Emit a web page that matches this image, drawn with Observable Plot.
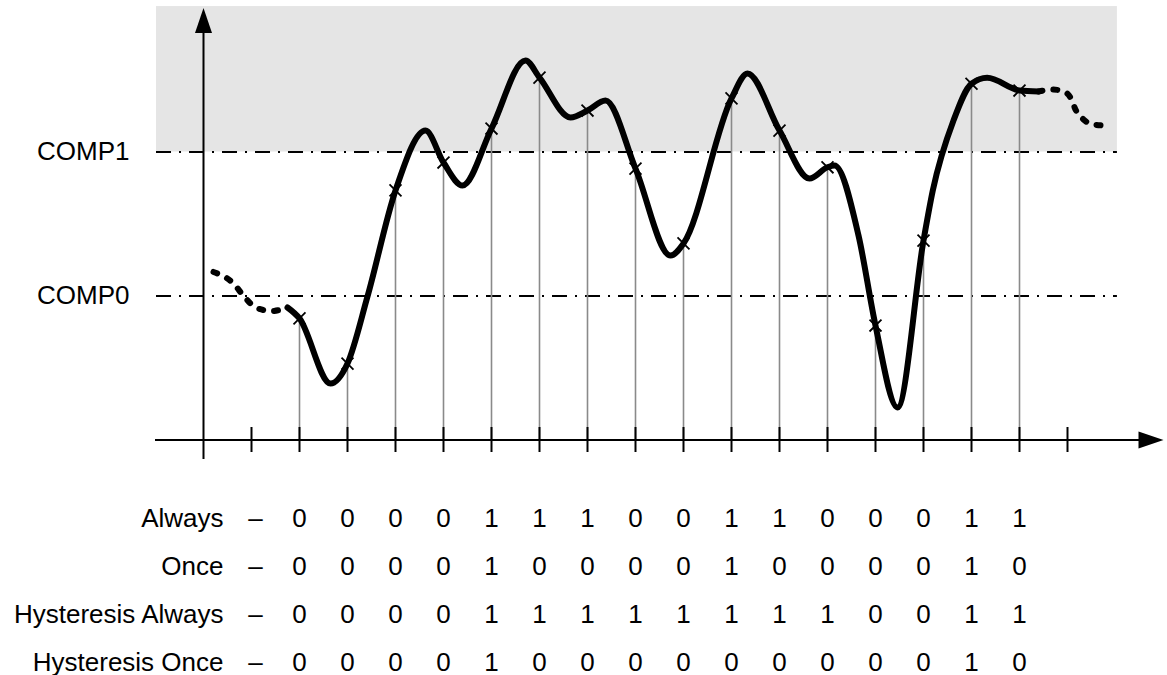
<!DOCTYPE html>
<html><head><meta charset="utf-8">
<script src="https://cdn.jsdelivr.net/npm/d3@7"></script>
<script src="https://cdn.jsdelivr.net/npm/@observablehq/plot@0.6"></script>
<style>
html,body{margin:0;padding:0;background:#fff;}
svg{display:block;}
</style></head><body><div id="chart"></div>
<script>
// ---- data ----
// sample instants (tick index) and the signal value at each sample (COMP0 = 1, COMP1 = 2)
const sampleT = [2, 3, 4, 5, 6, 7, 8, 9, 10, 11, 12, 13, 14, 15, 16, 17];
const sampleV = [0.844, 0.531, 1.733, 1.927, 2.163, 2.517, 2.288, 1.885, 1.365, 2.372, 2.149, 1.894, 0.795, 1.385, 2.474, 2.427];
// extra points of the solid signal between samples (peaks, valleys)
const betweenT = [1.75, 2.646, 3.417, 4.625, 5.396, 6.708, 7.646, 8.375, 9.729, 11.333, 12.625, 13.146, 13.646, 14.458, 15.194, 15.625, 16.326, 17.396];
const betweenV = [0.920, 0.392, 0.997, 2.149, 1.767, 2.635, 2.240, 2.358, 1.281, 2.545, 1.816, 1.906, 1.420, 0.226, 1.733, 2.219, 2.515, 2.420];
// dashed lead-in and tail of the signal
const leadT = [0.208, 0.635, 0.844, 1.104, 1.427, 1.75];
const leadV = [1.167, 1.083, 0.997, 0.917, 0.896, 0.920];
const tailT = [17.396, 17.688, 17.917, 18.063, 18.167, 18.333, 18.542, 18.792];
const tailV = [2.420, 2.434, 2.420, 2.378, 2.295, 2.226, 2.191, 2.184];
// comparator levels
const levelNames = ["COMP0", "COMP1"];
const levelValues = [1, 2];
// axis ticks
const tickT = [1, 2, 3, 4, 5, 6, 7, 8, 9, 10, 11, 12, 13, 14, 15, 16, 17, 18];
// table below the chart
const rowNames = ["Always", "Once", "Hysteresis Always", "Hysteresis Once"];
const alwaysRow     = [0,0,0,0,1,1,1,0,0,1,1,0,0,0,1,1];
const onceRow       = [0,0,0,0,1,0,0,0,0,1,0,0,0,0,1,0];
const hystAlwaysRow = [0,0,0,0,1,1,1,1,1,1,1,1,0,0,1,1];
const hystOnceRow   = [0,0,0,0,1,0,0,0,0,0,0,0,0,0,1,0];
const rowValues = [alwaysRow, onceRow, hystAlwaysRow, hystOnceRow];

// ---- drawing ----
const FONT = "'Liberation Sans', Arial, Helvetica, sans-serif";
const X = {domain: [0, 18], range: [203, 1067], axis: null};
const xMin = -0.979, xMax = 19.04, xAxisStart = -1, xArrowBase = 19.5, xArrowTip = 20;
const yTop = 3.01, yAxisBottom = -0.135, yArrowBase = 2.85, yArrowTip = 3;
const TICK = 0.087;

const arrowRight = {draw(ctx) { ctx.moveTo(0, 0); ctx.lineTo(-25, -8.5); ctx.lineTo(-25, 8.5); ctx.closePath(); }};
const arrowUp = {draw(ctx) { ctx.moveTo(0, 0); ctx.lineTo(-8.5, 25); ctx.lineTo(8.5, 25); ctx.closePath(); }};

const samples = sampleT.map((t, i) => ({t, v: sampleV[i]}));
const solid = [...samples, ...betweenT.map((t, i) => ({t, v: betweenV[i]}))].sort((a, b) => a.t - b.t);
const lead = leadT.map((t, i) => ({t, v: leadV[i]}));
const tail = tailT.map((t, i) => ({t, v: tailV[i]}));
const levels = levelValues.map((v, i) => ({v, name: levelNames[i]}));

const style = {fontFamily: FONT, fontSize: "26px", background: "white", overflow: "visible", color: "black"};

const chart = Plot.plot({
  width: 1167, height: 475, margin: 0,
  x: X,
  y: {domain: [0, 3], range: [439.5, 7.5], axis: null},
  style,
  marks: [
    Plot.rect([0], {x1: xMin, x2: xMax, y1: 2, y2: yTop, fill: "#e5e5e5"}),
    Plot.ruleY(levels, {y: "v", x1: xMin, x2: xMax, stroke: "black", strokeWidth: 1.8, strokeDasharray: "15,8,2,8"}),
    Plot.text(levels, {x: xAxisStart, y: "v", text: "name", textAnchor: "end", dx: -26, fontSize: 26, fill: "black"}),
    Plot.ruleX(samples, {x: "t", y1: 0, y2: "v", stroke: "#8a8a8a", strokeWidth: 1.6}),
    Plot.ruleX(tickT, {x: d => d, y1: -TICK, y2: TICK, stroke: "black", strokeWidth: 2}),
    Plot.ruleY([0], {x1: xAxisStart, x2: xArrowBase, stroke: "black", strokeWidth: 2}),
    Plot.ruleX([0], {y1: yAxisBottom, y2: yArrowBase, stroke: "black", strokeWidth: 2}),
    Plot.dot([0], {x: xArrowTip, y: 0, symbol: arrowRight, fill: "black", stroke: "none"}),
    Plot.dot([0], {x: 0, y: yArrowTip, symbol: arrowUp, fill: "black", stroke: "none"}),
    Plot.line(lead, {x: "t", y: "v", curve: "monotone-x", stroke: "black", strokeWidth: 6, strokeLinecap: "round", strokeDasharray: "4,11"}),
    Plot.line(tail, {x: "t", y: "v", curve: "monotone-x", stroke: "black", strokeWidth: 6, strokeLinecap: "round", strokeDasharray: "4,11"}),
    Plot.line(solid, {x: "t", y: "v", curve: "monotone-x", stroke: "black", strokeWidth: 6, strokeLinecap: "round", strokeLinejoin: "round"}),
    Plot.dot(samples, {x: "t", y: "v", symbol: "times", r: 5.5, stroke: "black", strokeWidth: 1.8})
  ]
});

const cells = rowNames.flatMap((row, r) => rowValues[r].map((value, i) => ({row, t: sampleT[i], value: String(value)})));

const table = Plot.plot({
  width: 1167, height: 200, margin: 0,
  x: X,
  y: {type: "point", domain: rowNames, range: [42.7, 186.7], padding: 0, axis: null},
  style,
  marks: [
    Plot.text(rowNames, {x: 1, y: d => d, text: d => d, textAnchor: "end", dx: -28, fontSize: 26, fill: "black"}),
    Plot.text(rowNames, {x: 1, y: d => d, text: () => "–", dx: 4, fontSize: 26, fill: "black"}),
    Plot.text(cells, {x: "t", y: "row", text: "value", fontSize: 26, fill: "black"})
  ]
});

const root = document.getElementById("chart");
root.appendChild(chart);
root.appendChild(table);
</script></body></html>
